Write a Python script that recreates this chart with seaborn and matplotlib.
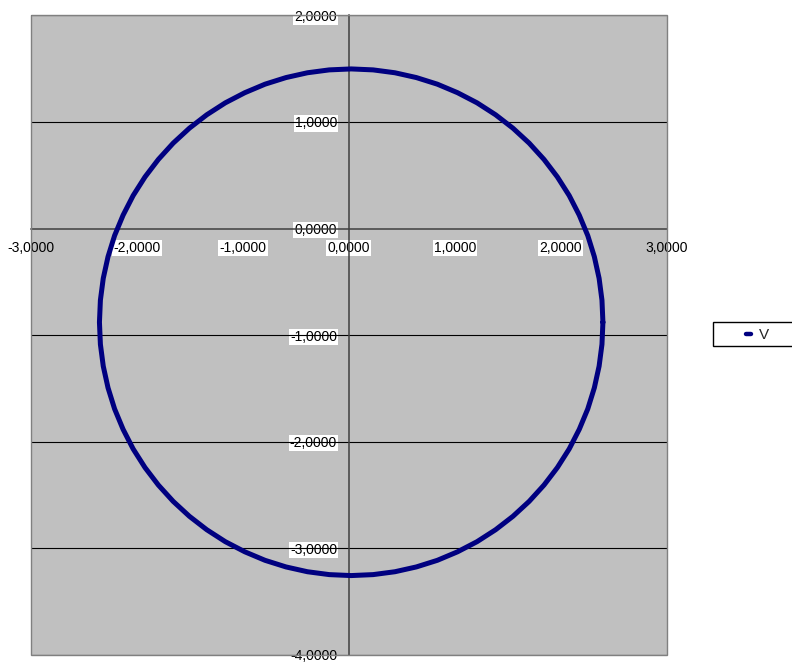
import matplotlib
matplotlib.use("Agg")
import matplotlib.pyplot as plt
from matplotlib.patches import Rectangle
from matplotlib.lines import Line2D
import pandas as pd
import seaborn as sns

# Series "V": closed curve of (x, y) points
v_x = [2.398, 2.389, 2.362, 2.317, 2.255, 2.175, 2.080, 1.968, 1.842, 1.702,
       1.549, 1.385, 1.210, 1.026, 0.835, 0.637, 0.435, 0.229, 0.022,
       -0.185, -0.391, -0.593, -0.791, -0.982, -1.166, -1.341, -1.505, -1.658,
       -1.798, -1.924, -2.036, -2.131, -2.211, -2.273, -2.318, -2.345, -2.354,
       -2.345, -2.318, -2.273, -2.211, -2.131, -2.036, -1.924, -1.798, -1.658,
       -1.505, -1.341, -1.166, -0.982, -0.791, -0.593, -0.391, -0.185, 0.022,
       0.229, 0.435, 0.637, 0.835, 1.026, 1.210, 1.385, 1.549, 1.702,
       1.842, 1.968, 2.080, 2.175, 2.255, 2.317, 2.362, 2.389, 2.398]
v_y = [-0.879, -0.672, -0.467, -0.264, -0.066, 0.125, 0.309, 0.484, 0.648, 0.801,
       0.941, 1.067, 1.179, 1.274, 1.354, 1.416, 1.461, 1.488, 1.497,
       1.488, 1.461, 1.416, 1.354, 1.274, 1.179, 1.067, 0.941, 0.801,
       0.648, 0.484, 0.309, 0.125, -0.066, -0.264, -0.467, -0.672, -0.879,
       -1.086, -1.291, -1.494, -1.692, -1.883, -2.067, -2.242, -2.406, -2.559,
       -2.699, -2.825, -2.937, -3.032, -3.112, -3.174, -3.219, -3.246, -3.255,
       -3.246, -3.219, -3.174, -3.112, -3.032, -2.937, -2.825, -2.699, -2.559,
       -2.406, -2.242, -2.067, -1.883, -1.692, -1.494, -1.291, -1.086, -0.879]

x_ticks = [-3, -2, -1, 0, 1, 2, 3]
y_ticks = [-4, -3, -2, -1, 0, 1, 2]
series_name = "V"

sns.set_style("white")
plt.rcParams["font.family"] = ["Liberation Sans", "DejaVu Sans"]

W, H = 792, 664
fig = plt.figure(figsize=(W / 100, H / 100), dpi=100)
left, right, top, bottom = 31, 666.7, 15.3, 655
ax = fig.add_axes([left / W, 1 - bottom / H, (right - left) / W, (bottom - top) / H])
ax.set_facecolor("#C0C0C0")

df = pd.DataFrame({"x": v_x, "y": v_y, "series": series_name})
sns.lineplot(data=df, x="x", y="y", sort=False, estimator=None, ax=ax,
             color="#000080", linewidth=3.6, legend=False, zorder=3)
for ln in ax.get_lines():
    ln.set_solid_joinstyle("round")

ax.set_xlim(-3, 3)
ax.set_ylim(-4, 2)
ax.set_xlabel("")
ax.set_ylabel("")

# horizontal gridlines only
for yv in y_ticks:
    if yv != 0:
        ax.axhline(yv, color="#000000", linewidth=0.8, zorder=1)

# axes crossing at zero
for s in ["top", "right"]:
    ax.spines[s].set_visible(False)
ax.spines["left"].set_position(("data", 0))
ax.spines["bottom"].set_position(("data", 0))
for s in ["left", "bottom"]:
    ax.spines[s].set_color("#404040")
    ax.spines[s].set_linewidth(1.1)
    ax.spines[s].set_zorder(2)

# plot-area border
ax.add_patch(Rectangle((0, 0), 1, 1, transform=ax.transAxes, fill=False,
                       edgecolor="#808080", linewidth=1.0, clip_on=False, zorder=4))


def fmt(v):
    return f"{v:.4f}".replace(".", ",")


ax.set_xticks(x_ticks)
ax.set_yticks(y_ticks)
ax.set_xticklabels([fmt(v) for v in x_ticks])
ax.set_yticklabels([fmt(v) for v in y_ticks])
ax.tick_params(axis="both", direction="out", length=4, width=1.0, color="#404040",
               labelsize=10, labelcolor="black")
ax.tick_params(axis="x", pad=5)
ax.tick_params(axis="y", pad=4.5)

box = dict(facecolor="white", edgecolor="none", boxstyle="square,pad=0.08")
for v, lbl in zip(x_ticks, ax.get_xticklabels()):
    if v not in (-3, 3):
        lbl.set_bbox(box)
for v, lbl in zip(y_ticks, ax.get_yticklabels()):
    if v != -4:
        lbl.set_bbox(box)

# legend: framed box at right with short line key
fig.patches.append(Rectangle((713 / W, 1 - 346 / H), 90 / W, 24 / H,
                             transform=fig.transFigure, facecolor="white",
                             edgecolor="#000000", linewidth=1.0, zorder=5))
handle = Line2D([], [], color="#000080", linewidth=3.2)
leg = fig.legend([handle], [series_name], loc="center left",
                 bbox_to_anchor=(745.5 / W, 1 - 335 / H), frameon=False,
                 handlelength=0.35, handletextpad=0.5, borderpad=0,
                 borderaxespad=0, fontsize=11)
leg.set_zorder(6)

fig.savefig("out.png", dpi=100)
